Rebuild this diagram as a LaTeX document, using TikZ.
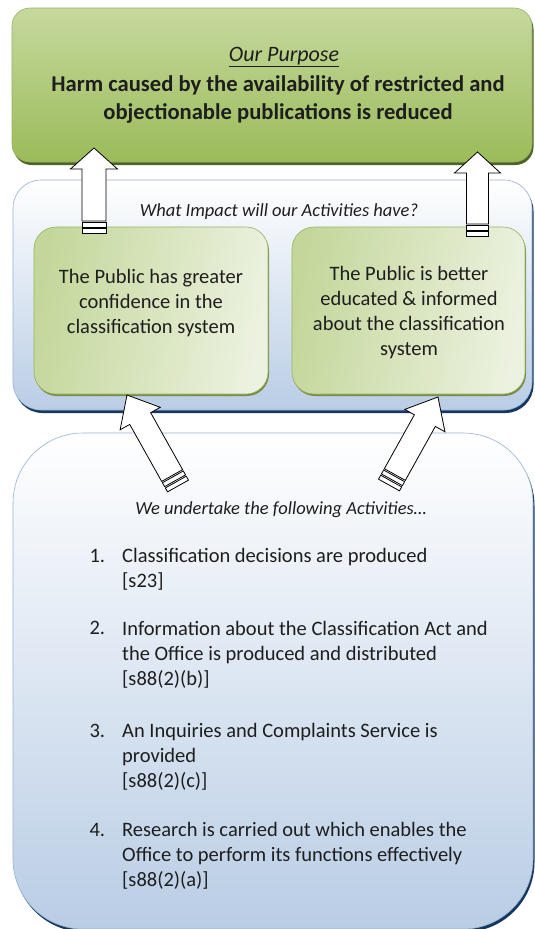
\documentclass[tikz,border=0pt]{standalone}
\usepackage{fontspec}
\setmainfont{Carlito}
\usetikzlibrary{calc}
\definecolor{gTop}{RGB}{198,217,158}
\definecolor{gBot}{RGB}{155,187,89}
\definecolor{gShadow}{RGB}{79,98,40}
\definecolor{gLine}{RGB}{150,180,95}
\definecolor{gMid}{RGB}{196,215,155}
\definecolor{gLight}{RGB}{236,242,224}
\definecolor{gInShadow}{RGB}{120,140,70}
\definecolor{bBot}{RGB}{185,205,229}
\definecolor{bLine}{RGB}{149,179,215}
\definecolor{bShadow}{RGB}{23,55,94}
\definecolor{ink}{RGB}{30,30,30}
\newcommand\blockarrow[5]{% tail, tip, shaft half width, head half width, head length
  \coordinate (ba0) at (#1);
  \coordinate (ba1) at ($(#1)!4.5pt!(#2)$);
  \coordinate (ba2) at ($(#1)!6pt!(#2)$);
  \coordinate (ba3) at ($(#1)!10.5pt!(#2)$);
  \coordinate (ba4) at ($(#1)!12pt!(#2)$);
  \coordinate (bah) at ($(#2)!#5!(#1)$);
  \draw[arrowline] ($(ba0)!#3!90:(#2)$) -- ($(ba1)!#3!-90:(ba0)$) -- ($(ba1)!#3!90:(ba0)$) -- ($(ba0)!#3!-90:(#2)$) -- cycle;
  \draw[arrowline] ($(ba2)!#3!90:(#2)$) -- ($(ba3)!#3!-90:(ba2)$) -- ($(ba3)!#3!90:(ba2)$) -- ($(ba2)!#3!-90:(#2)$) -- cycle;
  \draw[arrowline] ($(ba4)!#3!90:(#2)$) -- ($(bah)!#3!-90:(ba4)$) -- ($(bah)!#4!-90:(ba4)$) -- (#2) -- ($(bah)!#4!90:(ba4)$) -- ($(bah)!#3!90:(ba4)$) -- ($(ba4)!#3!-90:(#2)$) -- cycle;
}
\tikzset{
  txt/.style={text=ink, inner sep=0pt},
  arrowline/.style={draw=black, fill=white, line width=0.8pt, line join=miter},
  greenbox/.style={rectangle, rounded corners=18pt, top color=gTop, bottom color=gBot, draw=gLine, line width=0.6pt,
    preaction={fill=gShadow, transform canvas={xshift=1.5pt, yshift=-3pt}}},
  bluebox/.style={rectangle, top color=white, bottom color=bBot, draw=bLine, line width=0.6pt,
    preaction={fill=bShadow, transform canvas={xshift=1.5pt, yshift=-3pt}}},
  innerbox/.style={rectangle, rounded corners=22pt, left color=gMid, right color=gLight, shading angle=80, draw=gLine, line width=0.6pt,
    preaction={fill=gInShadow, transform canvas={xshift=1pt, yshift=-2pt}}},
}
\begin{document}
\begin{tikzpicture}[x=1pt,y=-1pt]
\useasboundingbox[fill=white] (0,0) rectangle (535,929);
% boxes
\node[greenbox, minimum width=520pt, minimum height=154pt] (purpose) at (272,85) {};
\node[bluebox, rounded corners=28pt, minimum width=519pt, minimum height=230pt] (impact) at (272.5,295) {};
\node[innerbox, minimum width=234pt, minimum height=167pt] (conf) at (151,310.5) {};
\node[innerbox, minimum width=233pt, minimum height=167pt] (educ) at (408.5,310.5) {};
\node[bluebox, rounded corners=70pt, minimum width=520pt, minimum height=496pt] (acts) at (273,681) {};
% texts (base anchor = baseline of the last line)
\node[txt, anchor=base, font={\fontsize{22}{26}\selectfont\itshape}] (ourp) at (284,61) {\underline{Our Purpose}};
\node[txt, anchor=base, align=center, font={\fontsize{22.6}{28}\selectfont\bfseries}] (harm) at (278,119.5)
  {Harm caused by the availability of restricted and\\objectionable publications is reduced};
\node[txt, anchor=base, font={\fontsize{18.5}{22}\selectfont\itshape}] (whatimp) at (279,216.5) {What Impact will our Activities have?};
\node[txt, anchor=base, align=center, font={\fontsize{20.5}{25}\selectfont}] (conftxt) at (151,333)
  {The Public has greater\\confidence in the\\classification system};
\node[txt, anchor=base, align=center, font={\fontsize{20.5}{24.7}\selectfont}] (eductxt) at (409,355)
  {The Public is better\\educated \& informed\\about the classification\\system};
\node[txt, anchor=base, font={\fontsize{18.5}{22}\selectfont\itshape}] (weund) at (281,514.8) {We undertake the following Activities\dots};
\tikzset{num/.style={txt, anchor=base west, font={\fontsize{20.5}{25}\selectfont}},
         item/.style={txt, anchor=base west, align=left, font={\fontsize{20.5}{25}\selectfont}}}
\node[num] (n1) at (89.4,562.5) {1.};
\node[item] (i1) at (122,587.5) {Classification decisions are produced\\{}[s23]};
\node[num] (n2) at (89.4,634.6) {2.};
\node[item] (i2) at (122,685) {Information about the Classification Act and\\the Office is produced and distributed\\{}[s88(2)(b)]};
\node[num] (n3) at (89.4,737) {3.};
\node[item] (i3) at (122,787) {An Inquiries and Complaints Service is\\provided\\{}[s88(2)(c)]};
\node[num] (n4) at (89.4,836.6) {4.};
\node[item] (i4) at (122,886.8) {Research is carried out which enables the\\Office to perform its functions effectively\\{}[s88(2)(a)]};
% arrows
\coordinate (a1t) at (94,233);   \coordinate (a1h) at (94,148);
\coordinate (a2t) at (477.5,236); \coordinate (a2h) at (477.5,152);
\coordinate (a3t) at (178,486);  \coordinate (a3h) at (127,395);
\coordinate (a4t) at (389,485);  \coordinate (a4h) at (438,397);
\blockarrow{a1t}{a1h}{12pt}{23.5pt}{21pt}
\blockarrow{a2t}{a2h}{11pt}{23pt}{21pt}
\blockarrow{a3t}{a3h}{12pt}{23pt}{27pt}
\blockarrow{a4t}{a4h}{12pt}{23pt}{27pt}
\end{tikzpicture}
\end{document}
